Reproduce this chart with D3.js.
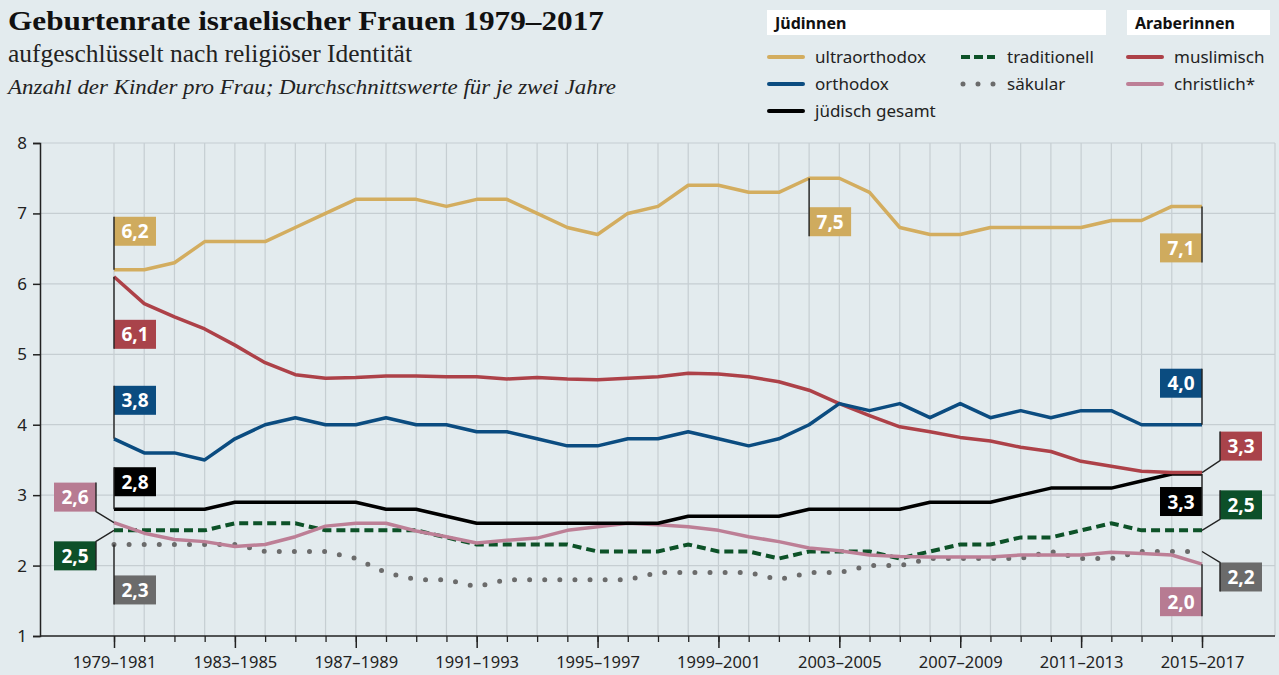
<!DOCTYPE html>
<html lang="de">
<head>
<meta charset="UTF-8">
<title>Geburtenrate israelischer Frauen</title>
<script src="https://d3js.org/d3.v7.min.js"></script>
<style>
  body { margin: 0; background: #e3ebee; }
  svg { display: block; }
  .serif { font-family: "Liberation Serif", "DejaVu Serif", serif; }
  .sans { font-family: "Noto Sans", "Open Sans", sans-serif; }
</style>
</head>
<body>
<div id="chart"></div>
<script>
// years (each point = average of two years, labelled by period)
const years = [1979, 1980, 1981, 1982, 1983, 1984, 1985, 1986, 1987, 1988,
  1989, 1990, 1991, 1992, 1993, 1994, 1995, 1996, 1997, 1998,
  1999, 2000, 2001, 2002, 2003, 2004, 2005, 2006, 2007, 2008,
  2009, 2010, 2011, 2012, 2013, 2014, 2015];
const tickYears = [1979, 1983, 1987, 1991, 1995, 1999, 2003, 2007, 2011, 2015];
const tickLabels = ["1979–1981", "1983–1985", "1987–1989", "1991–1993", "1995–1997",
  "1999–2001", "2003–2005", "2007–2009", "2011–2013", "2015–2017"];
const yTicks = [1, 2, 3, 4, 5, 6, 7, 8];

const ultraorthodox = [6.2, 6.2, 6.3, 6.6, 6.6, 6.6, 6.8, 7.0, 7.2, 7.2, 7.2, 7.1, 7.2, 7.2, 7.0, 6.8, 6.7, 7.0, 7.1,
  7.4, 7.4, 7.3, 7.3, 7.5, 7.5, 7.3, 6.8, 6.7, 6.7, 6.8, 6.8, 6.8, 6.8, 6.9, 6.9, 7.1, 7.1];
const orthodox = [3.8, 3.6, 3.6, 3.5, 3.8, 4.0, 4.1, 4.0, 4.0, 4.1, 4.0, 4.0, 3.9, 3.9, 3.8, 3.7, 3.7, 3.8, 3.8,
  3.9, 3.8, 3.7, 3.8, 4.0, 4.3, 4.2, 4.3, 4.1, 4.3, 4.1, 4.2, 4.1, 4.2, 4.2, 4.0, 4.0, 4.0];
const juedisch = [2.8, 2.8, 2.8, 2.8, 2.9, 2.9, 2.9, 2.9, 2.9, 2.8, 2.8, 2.7, 2.6, 2.6, 2.6, 2.6, 2.6, 2.6, 2.6,
  2.7, 2.7, 2.7, 2.7, 2.8, 2.8, 2.8, 2.8, 2.9, 2.9, 2.9, 3.0, 3.1, 3.1, 3.1, 3.2, 3.3, 3.3];
const traditionell = [2.5, 2.5, 2.5, 2.5, 2.6, 2.6, 2.6, 2.5, 2.5, 2.5, 2.5, 2.4, 2.3, 2.3, 2.3, 2.3, 2.2, 2.2, 2.2,
  2.3, 2.2, 2.2, 2.1, 2.2, 2.2, 2.2, 2.1, 2.2, 2.3, 2.3, 2.4, 2.4, 2.5, 2.6, 2.5, 2.5, 2.5];
const saekular = [2.3, 2.3, 2.3, 2.3, 2.3, 2.2, 2.2, 2.2, 2.1, 1.9, 1.8, 1.8, 1.7, 1.8, 1.8, 1.8, 1.8, 1.8, 1.9,
  1.9, 1.9, 1.9, 1.8, 1.9, 1.9, 2.0, 2.0, 2.1, 2.1, 2.1, 2.1, 2.2, 2.1, 2.1, 2.2, 2.2, 2.2];
const muslimisch = [6.1, 5.72, 5.53, 5.36, 5.13, 4.88, 4.71, 4.66, 4.67, 4.69, 4.69, 4.68, 4.68, 4.65, 4.67, 4.65, 4.64, 4.66, 4.68,
  4.73, 4.72, 4.68, 4.61, 4.49, 4.3, 4.13, 3.97, 3.9, 3.82, 3.77, 3.68, 3.62, 3.48, 3.41, 3.34, 3.32, 3.32];
const christlich = [2.61, 2.46, 2.37, 2.34, 2.27, 2.30, 2.41, 2.56, 2.60, 2.60, 2.49, 2.41, 2.32, 2.36, 2.39, 2.50, 2.55, 2.60, 2.58,
  2.55, 2.50, 2.41, 2.34, 2.25, 2.21, 2.15, 2.13, 2.12, 2.12, 2.12, 2.15, 2.15, 2.15, 2.19, 2.17, 2.15, 2.02];

// drawing order, style per series
const series = [
  { name: "säkular", values: saekular, color: "#6b6b6b", box: "#6b6b6b", style: "dot" },
  { name: "traditionell", values: traditionell, color: "#0d5228", box: "#0d5029", style: "dash" },
  { name: "christlich*", values: christlich, color: "#bd7f96", box: "#b77b92", style: "solid" },
  { name: "jüdisch gesamt", values: juedisch, color: "#000000", box: "#000000", style: "solid" },
  { name: "muslimisch", values: muslimisch, color: "#ad4148", box: "#a9434a", style: "solid" },
  { name: "orthodox", values: orthodox, color: "#0b4c80", box: "#0b4c80", style: "solid" },
  { name: "ultraorthodox", values: ultraorthodox, color: "#d3ad5f", box: "#cfab5e", style: "solid" }
];
const byName = {};
series.forEach(s => byName[s.name] = s);

// value label placement: index of point, box offset in px from the point
const labels = [
  { s: "ultraorthodox", i: 0, dx: 0, dy: -53 },
  { s: "muslimisch", i: 0, dx: 0, dy: 43 },
  { s: "orthodox", i: 0, dx: 0, dy: -53 },
  { s: "jüdisch gesamt", i: 0, dx: 0, dy: -42 },
  { s: "säkular", i: 0, dx: 0, dy: 31 },
  { s: "christlich*", i: 0, dx: -60, dy: -40 },
  { s: "traditionell", i: 0, dx: -60, dy: 11 },
  { s: "ultraorthodox", i: 23, dx: 0, dy: 29 },
  { s: "ultraorthodox", i: 36, dx: -42, dy: 27 },
  { s: "orthodox", i: 36, dx: -42, dy: -56 },
  { s: "jüdisch gesamt", i: 36, dx: -42, dy: 13 },
  { s: "christlich*", i: 36, dx: -42, dy: 23 },
  { s: "muslimisch", i: 36, dx: 18, dy: -41 },
  { s: "traditionell", i: 36, dx: 18, dy: -40 },
  { s: "säkular", i: 36, dx: 18, dy: 11 }
];

const W = 1279, H = 675;
const plotL = 40, plotR = 1275, plotT = 143, plotB = 636;

const svg = d3.select("#chart").append("svg")
  .attr("width", W).attr("height", H);

svg.append("rect").attr("width", W).attr("height", H).attr("fill", "#e3ebee");

// titles (textLength keeps the widths of the original lettering)
svg.append("text").attr("class", "serif").attr("x", 8).attr("y", 30)
  .attr("font-size", 28).attr("font-weight", "bold").attr("fill", "#111")
  .attr("textLength", 596).attr("lengthAdjust", "spacingAndGlyphs")
  .text("Geburtenrate israelischer Frauen 1979–2017");
svg.append("text").attr("class", "serif").attr("x", 8).attr("y", 62)
  .attr("font-size", 25.5).attr("fill", "#222")
  .attr("textLength", 404).attr("lengthAdjust", "spacingAndGlyphs")
  .text("aufgeschlüsselt nach religiöser Identität");
svg.append("text").attr("class", "serif").attr("x", 8).attr("y", 94)
  .attr("font-size", 21).attr("font-style", "italic").attr("fill", "#222")
  .attr("textLength", 608).attr("lengthAdjust", "spacingAndGlyphs")
  .text("Anzahl der Kinder pro Frau; Durchschnittswerte für je zwei Jahre");

// scales
const x = d3.scaleLinear().domain([1979, 2015]).range([114, 1202]);
const y = d3.scaleLinear().domain([1, 8]).range([plotB, plotT]);

// grid
const grid = svg.append("g").attr("stroke", "#c6ced2").attr("stroke-width", 1.2);
grid.selectAll(".h").data(yTicks.slice(1)).join("line")
  .attr("x1", plotL).attr("x2", plotR)
  .attr("y1", d => y(d)).attr("y2", d => y(d));
grid.selectAll(".v").data(years).join("line")
  .attr("x1", d => x(d)).attr("x2", d => x(d))
  .attr("y1", plotT).attr("y2", plotB);
grid.append("line").attr("x1", plotR).attr("x2", plotR).attr("y1", plotT).attr("y2", plotB);

// axes
const yAxis = d3.axisLeft(y).tickValues(yTicks).tickSize(7).tickPadding(6).tickFormat(d3.format("d"));
const gy = svg.append("g").attr("transform", `translate(${plotL},0)`).call(yAxis);
gy.select(".domain").attr("stroke", "#222").attr("stroke-width", 1.5);
gy.selectAll(".tick line").attr("stroke", "#222").attr("stroke-width", 1.5);
gy.selectAll("text").attr("class", "sans").attr("font-size", 17).attr("fill", "#222");

const xMinor = d3.axisBottom(x).tickValues(years).tickSize(6).tickFormat("");
const gxm = svg.append("g").attr("transform", `translate(0,${plotB})`).call(xMinor);
gxm.select(".domain").remove();
gxm.selectAll(".tick line").attr("stroke", "#222").attr("stroke-width", 1.3);

const xAxis = d3.axisBottom(x).tickValues(tickYears).tickSize(12).tickPadding(8)
  .tickFormat((d, i) => tickLabels[i]);
const gx = svg.append("g").attr("transform", `translate(0,${plotB})`).call(xAxis);
gx.select(".domain").remove();
gx.selectAll(".tick line").attr("stroke", "#222").attr("stroke-width", 1.5);
gx.selectAll("text").attr("class", "sans").attr("font-size", 16.5).attr("fill", "#222");
svg.append("line").attr("x1", plotL).attr("x2", plotR).attr("y1", plotB).attr("y2", plotB)
  .attr("stroke", "#222").attr("stroke-width", 1.5);

// lines
const line = d3.line().x((d, i) => x(years[i])).y(d => y(d));
series.forEach(s => {
  const p = svg.append("path").datum(s.values).attr("d", line)
    .attr("fill", "none").attr("stroke", s.color);
  if (s.style === "dot") {
    p.attr("stroke-width", 5).attr("stroke-linecap", "round").attr("stroke-dasharray", "0,15.1");
  } else if (s.style === "dash") {
    p.attr("stroke-width", 4).attr("stroke-dasharray", "9,5");
  } else {
    p.attr("stroke-width", 3.5).attr("stroke-linejoin", "round");
  }
});

// value labels
const fmt = v => d3.format(".1f")(v).replace(".", ",");
const bw = 42, bh = 29;
labels.forEach(l => {
  const s = byName[l.s];
  const px = x(years[l.i]), py = y(s.values[l.i]);
  const bx = px + l.dx, by = py + l.dy;
  const edgeX = l.dx < 0 ? bx + bw : bx;
  const near = l.dy < 0 ? by + bh : by;
  const far = l.dy < 0 ? by : by + bh;
  svg.append("rect").attr("x", bx).attr("y", by).attr("width", bw).attr("height", bh)
    .attr("fill", s.box);
  svg.append("polyline")
    .attr("points", [[px, py], [edgeX, near], [edgeX, far]].map(p => p.join(",")).join(" "))
    .attr("fill", "none").attr("stroke", "#222").attr("stroke-width", 1.4);
  svg.append("text").attr("class", "sans").attr("x", bx + bw / 2).attr("y", by + 21.5)
    .attr("text-anchor", "middle").attr("font-size", 19).attr("font-weight", "bold")
    .attr("fill", "#fff").text(fmt(s.values[l.i]));
});

// legend
const legend = svg.append("g").attr("class", "sans");
const heads = [{ t: "Jüdinnen", x: 767, w: 339 }, { t: "Araberinnen", x: 1127, w: 143 }];
heads.forEach(h => {
  legend.append("rect").attr("x", h.x).attr("y", 10).attr("width", h.w).attr("height", 25).attr("fill", "#fff");
  legend.append("text").attr("x", h.x + 8).attr("y", 29).attr("font-size", 16)
    .attr("font-weight", "bold").attr("fill", "#111").text(h.t);
});
const legendItems = [
  { s: "ultraorthodox", x: 769, y: 57 },
  { s: "orthodox", x: 769, y: 84 },
  { s: "jüdisch gesamt", x: 769, y: 111 },
  { s: "traditionell", x: 961, y: 57 },
  { s: "säkular", x: 961, y: 84 },
  { s: "muslimisch", x: 1128, y: 57 },
  { s: "christlich*", x: 1128, y: 84 }
];
legendItems.forEach(it => {
  const s = byName[it.s];
  const ln = legend.append("line").attr("x1", it.x).attr("x2", it.x + 34)
    .attr("y1", it.y).attr("y2", it.y).attr("stroke", s.color);
  if (s.style === "dot") {
    ln.attr("x1", it.x + 2).attr("stroke-width", 5).attr("stroke-linecap", "round").attr("stroke-dasharray", "0,15");
  } else if (s.style === "dash") {
    ln.attr("stroke-width", 4).attr("stroke-dasharray", "9,4");
  } else {
    ln.attr("stroke-width", 4).attr("stroke-linecap", "round");
  }
  legend.append("text").attr("x", it.x + 46).attr("y", it.y + 6).attr("font-size", 17)
    .attr("fill", "#222").text(s.name);
});
</script>
</body>
</html>
